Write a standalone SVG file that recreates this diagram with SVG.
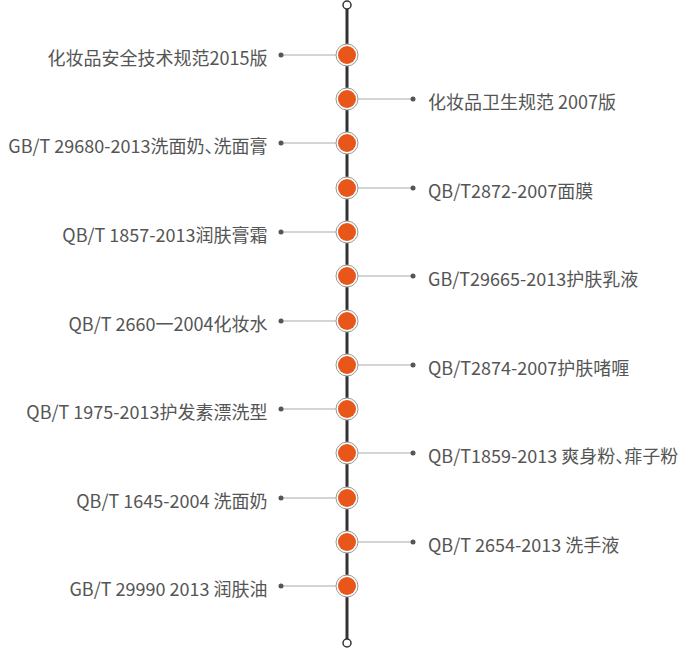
<svg xmlns="http://www.w3.org/2000/svg" width="694" height="649" viewBox="0 0 694 649">
<style>
.t{font-family:"Noto Sans CJK SC","Noto Sans",sans-serif;font-size:18px;fill:#555}
.l{text-anchor:end}
.h{font-feature-settings:"halt" 1}
.c{stroke:#aaa;stroke-width:1;fill:none}
.d{fill:#555}
.ring{fill:#fff;stroke:#999;stroke-width:1}
.dot{fill:#e8561a}
</style>
<rect width="694" height="649" fill="#fff"/>
<g id="connectors">
<line x1="347" y1="9" x2="347" y2="639" stroke="#333" stroke-width="3"/>
<line class="c" x1="281" y1="55" x2="336" y2="55"/>
<line class="c" x1="358" y1="99" x2="413" y2="99"/>
<line class="c" x1="281" y1="143" x2="336" y2="143"/>
<line class="c" x1="358" y1="188" x2="413" y2="188"/>
<line class="c" x1="281" y1="232" x2="336" y2="232"/>
<line class="c" x1="358" y1="276" x2="413" y2="276"/>
<line class="c" x1="281" y1="321" x2="336" y2="321"/>
<line class="c" x1="358" y1="365" x2="413" y2="365"/>
<line class="c" x1="281" y1="409" x2="336" y2="409"/>
<line class="c" x1="358" y1="453" x2="413" y2="453"/>
<line class="c" x1="281" y1="498" x2="336" y2="498"/>
<line class="c" x1="358" y1="542" x2="413" y2="542"/>
<line class="c" x1="281" y1="586" x2="336" y2="586"/>
</g>
<g id="start"><circle cx="347" cy="5" r="4" fill="#fff" stroke="#333" stroke-width="1.5"/></g>
<g id="end"><circle cx="347" cy="643" r="4" fill="#fff" stroke="#333" stroke-width="1.5"/></g>
<g id="n1"><circle class="ring" cx="347" cy="55" r="11"/><circle class="dot" cx="347" cy="55" r="9"/><circle class="d" cx="281" cy="55" r="2.5"/><text class="t l" x="267.5" y="65">化妆品安全技术规范2015版</text></g>
<g id="n2"><circle class="ring" cx="347" cy="99" r="11"/><circle class="dot" cx="347" cy="99" r="9"/><circle class="d" cx="413" cy="99" r="2.5"/><text class="t" x="428" y="109">化妆品卫生规范 2007版</text></g>
<g id="n3"><circle class="ring" cx="347" cy="143" r="11"/><circle class="dot" cx="347" cy="143" r="9"/><circle class="d" cx="281" cy="143" r="2.5"/><text class="t l h" x="267.5" y="153">GB/T 29680-2013洗面奶、洗面膏</text></g>
<g id="n4"><circle class="ring" cx="347" cy="188" r="11"/><circle class="dot" cx="347" cy="188" r="9"/><circle class="d" cx="413" cy="188" r="2.5"/><text class="t" x="428" y="198">QB/T2872-2007面膜</text></g>
<g id="n5"><circle class="ring" cx="347" cy="232" r="11"/><circle class="dot" cx="347" cy="232" r="9"/><circle class="d" cx="281" cy="232" r="2.5"/><text class="t l" x="267.5" y="242">QB/T 1857-2013润肤膏霜</text></g>
<g id="n6"><circle class="ring" cx="347" cy="276" r="11"/><circle class="dot" cx="347" cy="276" r="9"/><circle class="d" cx="413" cy="276" r="2.5"/><text class="t" x="428" y="286">GB/T29665-2013护肤乳液</text></g>
<g id="n7"><circle class="ring" cx="347" cy="321" r="11"/><circle class="dot" cx="347" cy="321" r="9"/><circle class="d" cx="281" cy="321" r="2.5"/><text class="t l" x="267.5" y="331">QB/T 2660一2004化妆水</text></g>
<g id="n8"><circle class="ring" cx="347" cy="365" r="11"/><circle class="dot" cx="347" cy="365" r="9"/><circle class="d" cx="413" cy="365" r="2.5"/><text class="t" x="428" y="375">QB/T2874-2007护肤啫喱</text></g>
<g id="n9"><circle class="ring" cx="347" cy="409" r="11"/><circle class="dot" cx="347" cy="409" r="9"/><circle class="d" cx="281" cy="409" r="2.5"/><text class="t l" x="267.5" y="419">QB/T 1975-2013护发素漂洗型</text></g>
<g id="n10"><circle class="ring" cx="347" cy="453" r="11"/><circle class="dot" cx="347" cy="453" r="9"/><circle class="d" cx="413" cy="453" r="2.5"/><text class="t h" x="428" y="463">QB/T1859-2013 爽身粉、痱子粉</text></g>
<g id="n11"><circle class="ring" cx="347" cy="498" r="11"/><circle class="dot" cx="347" cy="498" r="9"/><circle class="d" cx="281" cy="498" r="2.5"/><text class="t l" x="267.5" y="508">QB/T 1645-2004 洗面奶</text></g>
<g id="n12"><circle class="ring" cx="347" cy="542" r="11"/><circle class="dot" cx="347" cy="542" r="9"/><circle class="d" cx="413" cy="542" r="2.5"/><text class="t" x="428" y="552">QB/T 2654-2013 洗手液</text></g>
<g id="n13"><circle class="ring" cx="347" cy="586" r="11"/><circle class="dot" cx="347" cy="586" r="9"/><circle class="d" cx="281" cy="586" r="2.5"/><text class="t l" x="267.5" y="596">GB/T 29990 2013 润肤油</text></g>
</svg>
